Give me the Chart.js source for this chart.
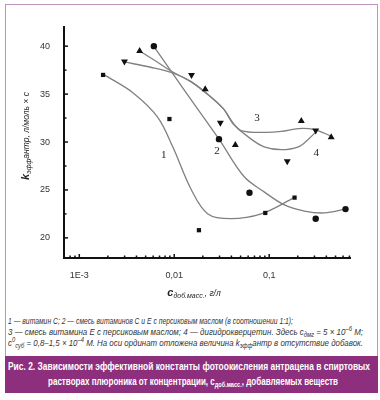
<!DOCTYPE html>
<html><head><meta charset="utf-8">
<script src="https://cdn.jsdelivr.net/npm/chart.js@4/dist/chart.umd.min.js"></script>
<style>
html,body{margin:0;padding:0;background:#fff;width:380px;height:400px;overflow:hidden}
#frame{position:absolute;left:5px;top:4px;width:373px;height:353px;border:1px solid #bf93bb;border-bottom:none;box-sizing:border-box}
#wrap{position:absolute;left:0;top:0;width:380px;height:310px}
.fit{position:absolute;white-space:nowrap;transform-origin:0 0}
#notes .fit{font:italic 8.8px/11px "Liberation Sans",sans-serif;color:#333;left:8px}
.sb{line-height:0}
.sp{line-height:0}
#notes .sb{font-size:6.5px;vertical-align:-2px}
#notes .sp{font-size:6.5px;vertical-align:4px}
#cap{position:absolute;left:5px;top:356px;width:373px;height:37px;background:#8e2f7e}
#cap .fit{color:#fff;font:bold 10.8px/15px "Liberation Sans",sans-serif}
#cap .sb{font-size:7.5px;vertical-align:-2px}
</style>
</head><body>
<div id="frame"></div>
<div id="wrap"><canvas id="c" width="380" height="310"></canvas></div>
<div id="notes">
<div class="fit note" data-w="285" style="top:316px">1 — витамин C; 2 — смесь витаминов C и E с персиковым маслом (в соотношении 1:1);</div>
<div class="fit note" data-w="355" style="top:327px">3 — смесь витамина E с персиковым маслом; 4 — дигидрокверцетин. Здесь c<span class="sb">дмг</span> = 5 × 10<span class="sp">–6</span> M;</div>
<div class="fit note" data-w="355" style="top:338px">c<span class="sp">0</span><span class="sb">суб</span> = 0,8–1,5 × 10<span class="sp">–4</span> M. На оси ординат отложена величина k<span class="sb">эфф</span>антр в отсутствие добавок.</div>
</div>
<div id="cap">
<div class="fit" data-w="362" style="left:3px;top:3px">Рис. 2. Зависимости эффективной константы фотоокисления антрацена в спиртовых</div>
<div class="fit" data-w="290" style="left:43px;top:18px">растворах плюроника от концентрации, c<span class="sb">доб.масс.</span>, добавляемых веществ</div>
</div>
<script>
// measured points (x: concentration g/l, y: k_eff)
const x1 = [0.00178, 0.0089, 0.0182, 0.091, 0.185];
const y1 = [37.0, 32.4, 20.8, 22.6, 24.2];
const x2 = [0.0061, 0.0296, 0.062, 0.309, 0.637];
const y2 = [40.0, 30.3, 24.7, 22.0, 23.0];
const x3 = [0.00432, 0.0212, 0.044, 0.218, 0.45];
const y3 = [39.5, 35.5, 29.7, 32.2, 30.5];
const x4 = [0.00299, 0.0152, 0.0306, 0.155, 0.309];
const y4 = [38.4, 37.0, 32.0, 28.0, 31.2];
// fitted curves
const fit1x = [0.00184, 0.00372, 0.00668, 0.00964, 0.015, 0.0226, 0.0396, 0.0823, 0.184];
const fit1y = [37.0, 35.1, 32.6, 29.5, 25.1, 22.5, 22.0, 22.5, 24.2];
const fit2x = [0.00607, 0.0132, 0.0296, 0.0543, 0.0885, 0.141, 0.235, 0.382, 0.637];
const fit2y = [40.0, 35.2, 30.3, 26.4, 24.8, 23.5, 22.8, 22.6, 23.0];
const fit3x = [0.00432, 0.00637, 0.00964, 0.015, 0.0243, 0.0334, 0.0416, 0.0506, 0.0885, 0.134, 0.203, 0.299, 0.453];
const fit3y = [39.5, 38.45, 37.3, 36.3, 34.7, 33.4, 32.0, 31.2, 31.0, 31.1, 31.4, 31.3, 30.6];
const fit4x = [0.00299, 0.00564, 0.00964, 0.015, 0.0243, 0.0334, 0.0416, 0.0646, 0.0885, 0.134, 0.203, 0.259, 0.314];
const fit4y = [38.35, 37.8, 37.2, 36.3, 34.7, 33.4, 31.9, 30.3, 29.5, 29.2, 29.5, 30.3, 31.1];
// curve labels
const curveLabels = ['1', '2', '3', '4'];
const curveLabelX = [0.00775, 0.0282, 0.0746, 0.314];
const curveLabelY = [28.6, 29.0, 32.5, 28.8];
// axis ticks
const yTickLabels = [20, 25, 30, 35, 40];
const xTickLabels = {0.001: '1E-3', 0.01: '0,01', 0.1: '0,1'};

// squeeze text lines to the widths seen in the reference
document.querySelectorAll('.fit[data-w]').forEach(el => {
  const w = el.getBoundingClientRect().width;
  el.style.transform = 'scaleX(' + (+el.dataset.w / w) + ')';
});

const pts = (xs, ys) => xs.map((x, i) => ({x, y: ys[i]}));
const markerStyles = [
  {pointStyle: 'rect', radius: 3, rotation: 0},
  {pointStyle: 'circle', radius: 3.2, rotation: 0},
  {pointStyle: 'triangle', radius: 4, rotation: 0},
  {pointStyle: 'triangle', radius: 4, rotation: 180}
];
const series = [[x1, y1], [x2, y2], [x3, y3], [x4, y4]];
const fits = [[fit1x, fit1y], [fit2x, fit2y], [fit3x, fit3y], [fit4x, fit4y]];

const datasets = [];
series.forEach((s, i) => datasets.push({
  data: pts(s[0], s[1]), showLine: false,
  pointStyle: markerStyles[i].pointStyle, pointRadius: markerStyles[i].radius,
  pointRotation: markerStyles[i].rotation,
  backgroundColor: '#111', borderColor: '#111', borderWidth: 0
}));
fits.forEach((f) => datasets.push({
  data: pts(f[0], f[1]), showLine: true, pointRadius: 0,
  borderColor: '#808080', borderWidth: 1.3, tension: 0.35, fill: false
}));

const inwardTicks = {
  id: 'inwardTicks',
  afterDraw(chart) {
    const ctx = chart.ctx, xs = chart.scales.x, ys = chart.scales.y, a = chart.chartArea;
    ctx.save();
    ctx.strokeStyle = '#111';
    ctx.lineWidth = 1.5;
    ys.ticks.forEach(t => {
      const v = t.value;
      if (Math.abs(v / 2.5 - Math.round(v / 2.5)) > 1e-6) return;
      const major = Math.abs(v / 5 - Math.round(v / 5)) < 1e-6;
      const p = ys.getPixelForValue(v);
      ctx.beginPath(); ctx.moveTo(a.left, p); ctx.lineTo(a.left + (major ? 4 : 2.5), p); ctx.stroke();
    });
    xs.ticks.forEach(t => {
      const v = t.value;
      const e = Math.floor(Math.log10(v) + 1e-9);
      const m = v / Math.pow(10, e);
      if (Math.abs(m - Math.round(m)) > 1e-6) return;
      const major = Math.round(m) === 1;
      const p = xs.getPixelForValue(v);
      ctx.beginPath(); ctx.moveTo(p, a.bottom); ctx.lineTo(p, a.bottom - (major ? 4 : 2.5)); ctx.stroke();
    });
    // curve numbers
    ctx.fillStyle = '#222';
    ctx.font = '11px "Liberation Serif", serif';
    ctx.textAlign = 'center'; ctx.textBaseline = 'middle';
    curveLabels.forEach((l, i) => {
      ctx.fillText(l, xs.getPixelForValue(curveLabelX[i]), ys.getPixelForValue(curveLabelY[i]));
    });
    // axis titles with subscripts
    const rich = (parts, cx, cy) => {
      let w = 0;
      parts.forEach(p => { ctx.font = p.f; w += ctx.measureText(p.t).width; });
      let x = cx - w / 2;
      ctx.textAlign = 'left'; ctx.textBaseline = 'alphabetic';
      parts.forEach(p => { ctx.font = p.f; ctx.fillText(p.t, x, cy + (p.dy || 0)); x += ctx.measureText(p.t).width; });
    };
    ctx.fillStyle = '#222';
    ctx.save();
    ctx.translate(29, 136); ctx.rotate(-Math.PI / 2);
    rich([
      {t: 'k', f: 'italic bold 11px "Liberation Sans", sans-serif'},
      {t: 'эфф', f: 'italic 7px "Liberation Sans", sans-serif', dy: 2},
      {t: 'антр, л/моль × с', f: 'italic 8.5px "Liberation Sans", sans-serif'}
    ], 0, 0);
    ctx.restore();
    rich([
      {t: 'c', f: 'italic bold 11px "Liberation Sans", sans-serif'},
      {t: 'доб.масс.', f: 'italic 7px "Liberation Sans", sans-serif', dy: 2},
      {t: ', г/л', f: 'italic 8.5px "Liberation Sans", sans-serif'}
    ], 194, 296);
    ctx.restore();
  }
};

new Chart(document.getElementById('c'), {
  type: 'scatter',
  data: {datasets},
  options: {
    responsive: false, animation: false, devicePixelRatio: 1,
    layout: {padding: {left: 0, top: 27, right: 30, bottom: 0}},
    plugins: {legend: {display: false}, tooltip: {enabled: false}},
    scales: {
      x: {
        type: 'logarithmic', min: 0.00069, max: 0.71,
        afterFit: s => { s.height = 52; },
        grid: {display: false},
        border: {display: true, color: '#111', width: 2},
        ticks: {
          autoSkip: false, maxRotation: 0, padding: 4, color: '#333',
          font: {family: '"Liberation Sans", sans-serif', size: 9},
          callback: v => xTickLabels[+Number(v).toPrecision(6)] || ''
        }
      },
      y: {
        min: 17.9, max: 42,
        afterFit: s => { s.width = 64; },
        afterBuildTicks: s => {
          const t = [];
          for (let v = 20; v <= 40.001; v += 2.5) t.push({value: v});
          s.ticks = t;
        },
        grid: {display: false},
        border: {display: true, color: '#111', width: 2},
        ticks: {
          padding: 6, color: '#333',
          font: {family: '"Liberation Sans", sans-serif', size: 9},
          callback: v => yTickLabels.includes(v) ? String(v) : ''
        }
      }
    }
  },
  plugins: [inwardTicks]
});
</script>
</body></html>
